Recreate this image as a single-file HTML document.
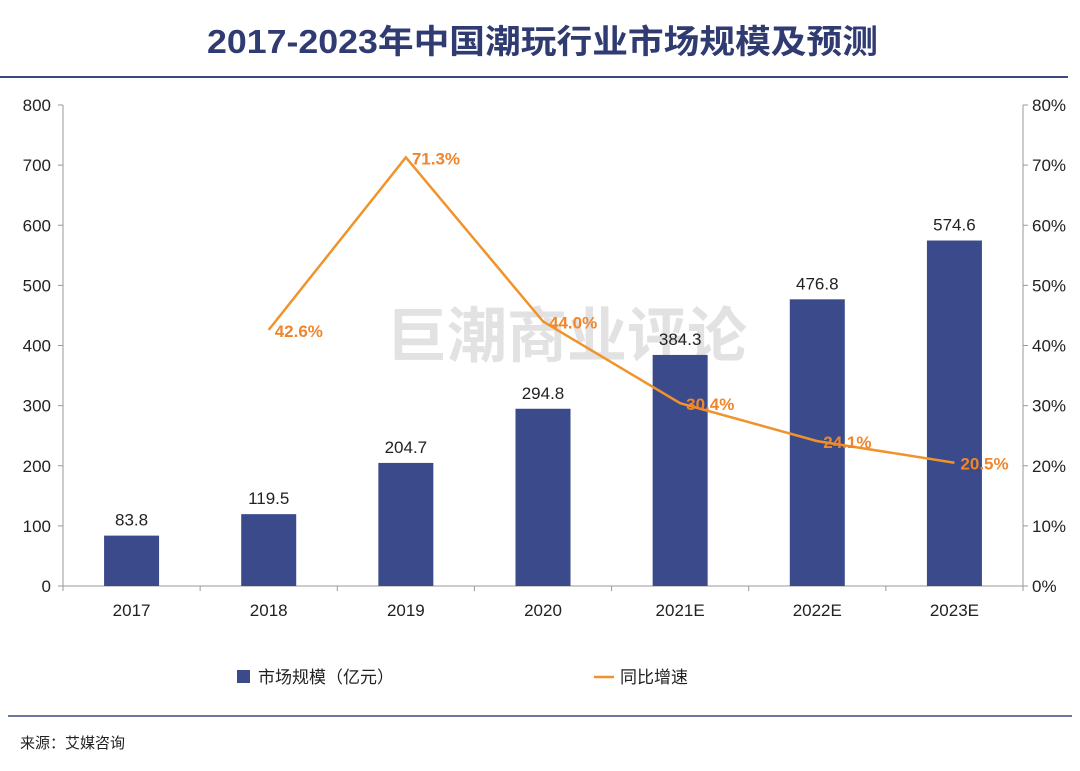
<!DOCTYPE html>
<html><head><meta charset="utf-8">
<style>
body{margin:0;background:#fff;width:1080px;height:766px;overflow:hidden;font-family:"Liberation Sans","Noto Sans CJK SC",sans-serif;}
svg text{font-family:"Liberation Sans","Noto Sans CJK SC",sans-serif;}
</style></head>
<body>
<svg id="c" width="1080" height="766">
<text x="207" y="53" textLength="671" lengthAdjust="spacingAndGlyphs" font-size="33" font-weight="bold" fill="#2f3b71">2017-2023年中国潮玩行业市场规模及预测</text>
<line x1="0" y1="77" x2="1068" y2="77" stroke="#3b4a80" stroke-width="2"/>
<text x="567" y="357" text-anchor="middle" font-size="60" font-weight="bold" fill="#e2e2e2">巨潮商业评论</text>
<g id="plot"></g>
<rect x="237" y="670" width="13" height="13" fill="#3a4a8a"/>
<text x="258" y="683" font-size="17" fill="#222">市场规模（亿元）</text>
<line x1="594" y1="677" x2="614" y2="677" stroke="#f0932b" stroke-width="2.5"/>
<text x="620" y="683" font-size="17" fill="#222">同比增速</text>
<line x1="8" y1="716" x2="1072" y2="716" stroke="#3b4a80" stroke-width="1.5"/>
<text x="20" y="748" font-size="15" fill="#222">来源：艾媒咨询</text>
</svg>
<script>
const categories=["2017","2018","2019","2020","2021E","2022E","2023E"];
const marketSize=[83.8,119.5,204.7,294.8,384.3,476.8,574.6];
const growth=[null,42.6,71.3,44.0,30.4,24.1,20.5];
const leftTicks=[0,100,200,300,400,500,600,700,800];
const rightTicks=[0,10,20,30,40,50,60,70,80];
const X0=63,X1=1023,Y0=586,Y1=105;
const bw=(X1-X0)/categories.length;
const xc=i=>X0+bw*(i+0.5);
const yL=v=>Y0-(v/800)*(Y0-Y1);
const yR=v=>Y0-(v/80)*(Y0-Y1);
const g=document.getElementById('plot');
const NS='http://www.w3.org/2000/svg';
function mk(t,a){const e=document.createElementNS(NS,t);for(const k in a)e.setAttribute(k,a[k]);g.appendChild(e);return e;}
let e=mk('line',{x1:X0,y1:Y0,x2:X1,y2:Y0,stroke:'#999','stroke-width':1});


e=mk('line',{x1:X0,y1:Y1,x2:X0,y2:Y0,stroke:'#999'});


e=mk('line',{x1:X1,y1:Y1,x2:X1,y2:Y0,stroke:'#999'});


leftTicks.forEach(v=>{
 let t=mk('line',{x1:X0-5,y1:yL(v),x2:X0,y2:yL(v),stroke:'#999'});
 
 
 t=mk('text',{x:X0-12,y:yL(v)+6,'text-anchor':'end','font-size':17,fill:'#222'});t.textContent=v;
 
 
});
rightTicks.forEach(v=>{
 let t=mk('line',{x1:X1,y1:yR(v),x2:X1+5,y2:yR(v),stroke:'#999'});
 
 
 t=mk('text',{x:X1+9,y:yR(v)+6,'font-size':17,fill:'#222'});t.textContent=v+'%';
 
 
});
for(let i=0;i<=categories.length;i++){
 let t=mk('line',{x1:X0+bw*i,y1:Y0,x2:X0+bw*i,y2:Y0+5,stroke:'#999'});
 
 
}
categories.forEach((c,i)=>{
 let t=mk('text',{x:xc(i),y:Y0+30,'text-anchor':'middle','font-size':17,fill:'#222'});t.textContent=c;
 
 
 const v=marketSize[i];
 let r=mk('rect',{x:xc(i)-27.5,y:yL(v),width:55,height:Y0-yL(v),fill:'#3a4a8a'});
 
 
 t=mk('text',{x:xc(i),y:yL(v)-10,'text-anchor':'middle','font-size':17,fill:'#222'});t.textContent=v.toFixed(1);
 
 
});
const pts=[];growth.forEach((v,i)=>{if(v!==null)pts.push([xc(i),yR(v),v]);});
let p=mk('polyline',{points:pts.map(q=>q[0]+','+q[1]).join(' '),fill:'none',stroke:'#f0932b','stroke-width':2.5});


pts.forEach(q=>{
 let t=mk('text',{x:q[0]+6,y:q[1]+7,'font-size':17,'font-weight':'bold',fill:'#f0852b'});t.textContent=q[2].toFixed(1)+'%';
 
 
});
</script>
</body></html>
